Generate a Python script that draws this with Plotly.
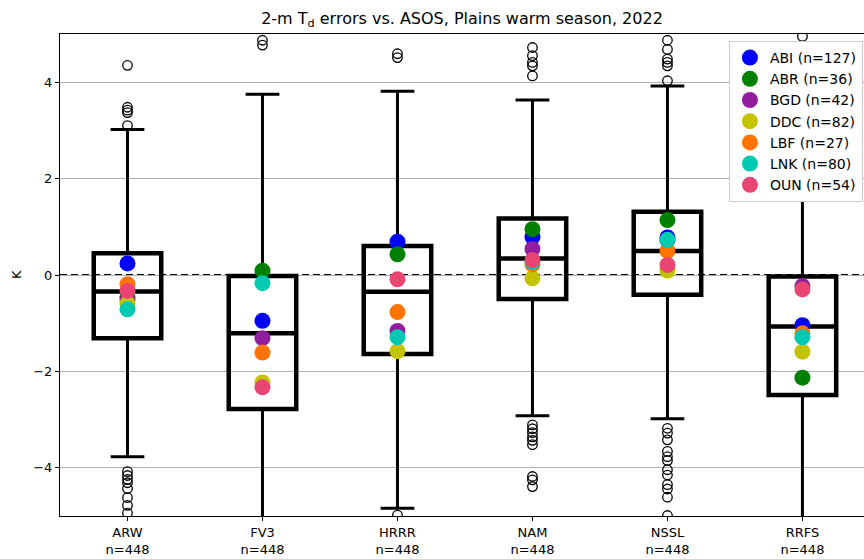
import plotly.graph_objects as go

# Models evaluated and sample sizes
models = ["ARW", "FV3", "HRRR", "NAM", "NSSL", "RRFS"]
n_obs = [448, 448, 448, 448, 448, 448]

# Box statistics of 2-m dewpoint errors (K)
q1 = [-1.31, -2.78, -1.64, -0.50, -0.41, -2.49]
median = [-0.34, -1.21, -0.35, 0.34, 0.50, -1.07]
q3 = [0.45, -0.02, 0.60, 1.17, 1.31, -0.03]
whisker_lo = [-3.77, -5.80, -4.84, -2.92, -2.98, -5.90]
whisker_hi = [3.02, 3.75, 3.81, 3.63, 3.92, 3.55]

# Outliers per model
outliers = {
    "ARW": [4.35, 3.48, 3.42, 3.37, 3.10, -4.08, -4.16, -4.24, -4.31, -4.43, -4.62, -4.78, -4.94],
    "FV3": [4.87, 4.77],
    "HRRR": [4.59, 4.51, -4.98],
    "NAM": [4.72, 4.55, 4.41, 4.34, 4.13, -3.11, -3.19, -3.27, -3.36, -3.43, -3.52, -4.18, -4.25, -4.39],
    "NSSL": [4.87, 4.68, 4.48, 4.41, 4.34, 4.03, -3.18, -3.28, -3.42, -3.66, -3.77, -3.85, -4.04,
             -4.15, -4.35, -4.44, -4.61, -4.99],
    "RRFS": [4.95],
}

# Mean error by station (one value per model)
stations = ["ABI", "ABR", "BGD", "DDC", "LBF", "LNK", "OUN"]
station_n = [127, 36, 42, 82, 27, 80, 54]
station_colors = ["#0000ff", "#008000", "#911e9e", "#c3c300", "#ff7300", "#00c9b1", "#e84573"]
abi = [0.24, -0.95, 0.69, 0.79, 0.78, -1.04]
abr = [-0.46, 0.09, 0.43, 0.95, 1.14, -2.13]
bgd = [-0.52, -1.31, -1.16, 0.54, 0.72, -0.23]
ddc = [-0.59, -2.23, -1.58, -0.07, 0.09, -1.59]
lbf = [-0.19, -1.61, -0.77, 0.22, 0.50, -1.21]
lnk = [-0.71, -0.17, -1.29, 0.27, 0.73, -1.29]
oun = [-0.33, -2.33, -0.09, 0.31, 0.21, -0.30]
station_means = [abi, abr, bgd, ddc, lbf, lnk, oun]

pos = list(range(len(models)))
FONT = "DejaVu Sans"

fig = go.Figure()

# Whiskers and thin box outline
fig.add_trace(go.Box(
    x=pos, q1=q1, median=median, q3=q3,
    lowerfence=whisker_lo, upperfence=whisker_hi,
    width=0.5, whiskerwidth=0.5, boxpoints=False,
    line=dict(color="black", width=3),
    fillcolor="rgba(0,0,0,0)", showlegend=False, hoverinfo="skip",
))
# Heavier box edges and median
fig.add_trace(go.Box(
    x=pos, q1=q1, median=median, q3=q3,
    lowerfence=q1, upperfence=q3,
    width=0.5, whiskerwidth=0, boxpoints=False,
    line=dict(color="black", width=4.5),
    fillcolor="rgba(0,0,0,0)", showlegend=False, hoverinfo="skip",
))

# Outlier circles
ox, oy = [], []
for i, m in enumerate(models):
    ox += [i] * len(outliers[m])
    oy += outliers[m]
fig.add_trace(go.Scatter(
    x=ox, y=oy, mode="markers", showlegend=False, hoverinfo="skip",
    marker=dict(symbol="circle-open", size=9.5, color="black", line=dict(width=1.3)),
))

# Station mean markers
for name, n, col, vals in zip(stations, station_n, station_colors, station_means):
    fig.add_trace(go.Scatter(
        x=pos, y=vals, mode="markers", name=f"{name} (n={n})", legendgroup=name,
        marker=dict(size=16, color=col, line=dict(width=0)),
    ))

# Zero reference line (white backing hides the gridline in the dash gaps)
fig.add_shape(type="line", xref="paper", x0=0, x1=1, yref="y", y0=0, y1=0,
              line=dict(color="white", width=2), layer="between")
fig.add_shape(type="line", xref="paper", x0=0, x1=1, yref="y", y0=0, y1=0,
              line=dict(color="black", width=2, dash="7px,4px"), layer="between")

# Y-axis label
fig.add_annotation(text="K", xref="paper", yref="paper", x=0, y=0.5,
                   xanchor="center", yanchor="middle", xshift=-44, textangle=-90,
                   showarrow=False, font=dict(family=FONT, size=13))

fig.update_layout(
    width=864, height=559,
    margin=dict(l=60, r=0, t=34, b=43),
    paper_bgcolor="white", plot_bgcolor="white",
    font=dict(family=FONT, size=13, color="black"),
    boxmode="overlay",
    title=dict(text="2-m T<sub>d</sub> errors vs. ASOS, Plains warm season, 2022",
               x=0.5, xanchor="center", y=1 - 18 / 559, yanchor="middle",
               xref="paper", font=dict(family=FONT, size=16)),
    legend=dict(x=0.832, y=0.9855, xanchor="left", yanchor="top",
                bgcolor="white", bordercolor="#cccccc", borderwidth=1,
                tracegroupgap=1, traceorder="normal",
                font=dict(family=FONT, size=14)),
    showlegend=True,
)
fig.update_xaxes(
    range=[-0.5, 5.456], tickmode="array", tickvals=pos,
    ticktext=[f"{m}<br>n={n}" for m, n in zip(models, n_obs)],
    showgrid=False, zeroline=False, showline=True, linecolor="black", linewidth=1.2,
    mirror=True, ticks="outside", ticklen=4, tickcolor="black",
)
fig.update_yaxes(
    range=[-5, 5], tickmode="array", tickvals=[-4, -2, 0, 2, 4],
    showgrid=True, gridcolor="#b0b0b0", gridwidth=1, zeroline=False,
    showline=True, linecolor="black", linewidth=1.2,
    ticks="outside", ticklen=4, tickcolor="black",
)

fig.write_html("out.html")
